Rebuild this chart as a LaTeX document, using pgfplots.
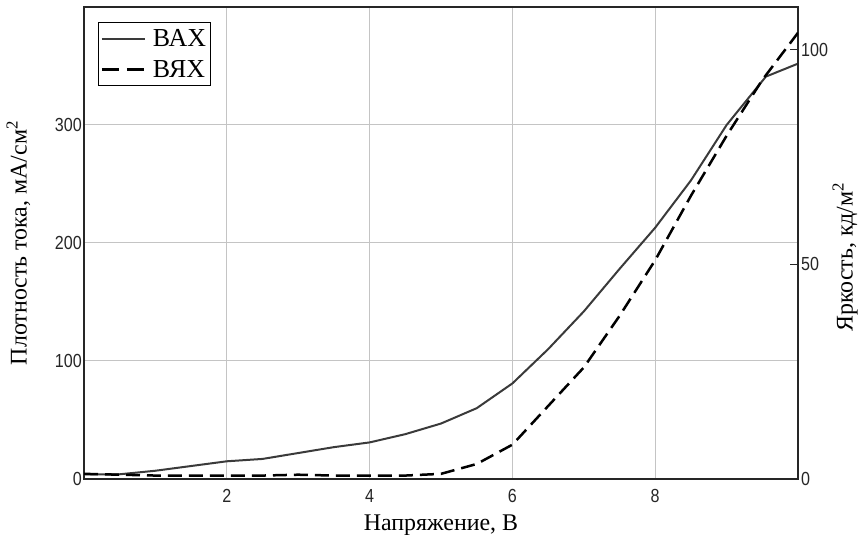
\documentclass[border=0pt]{standalone}
\usepackage{pgfplots}
\pgfplotsset{compat=1.18}
\usepackage{fontspec}
\setmainfont{Liberation Serif}
\newfontfamily\tickfont[FakeStretch=0.85]{Liberation Sans}
\definecolor{solidc}{HTML}{3A3A3A}
\definecolor{gridc}{HTML}{C4C4C4}
\begin{document}
\begin{tikzpicture}[x=1bp,y=1bp]
\begin{axis}[
  at={(84bp,56bp)}, anchor=south west,
  scale only axis, width=714bp, height=472bp,
  xmin=0, xmax=10, ymin=0, ymax=400,
  xtick={2,4,6,8}, ytick={0,100,200,300},
  xtick pos=bottom, ytick pos=left,
  grid=major, grid style={line width=1bp, color=gridc},
  axis line style={line width=1.5bp, black!85},
  major tick length=0pt,
  /pgf/number format/assume math mode=true,
  ticklabel style={font=\tickfont\fontsize{19}{19}\selectfont, text=black!85},
  yticklabel style={inner sep=2bp},
  xticklabel style={yshift=-7bp},
  label style={font=\fontsize{24}{24}\selectfont},
  xlabel={Напряжение, В},
  xlabel style={at={(axis description cs:0.5,0)}, anchor=base, yshift=-52bp},
  ylabel={Плотность тока, мА/см\textsuperscript{2}},
  ylabel style={at={(axis description cs:-0.092,0.5)}, anchor=center},
  legend image code/.code={\draw[#1] (0bp,0bp) -- (43bp,0bp);},
  legend style={at={(axis description cs:0.0196,0.968)}, anchor=north west,
    draw=black, line width=1bp, font=\fontsize{26}{26}\selectfont,
    inner xsep=2bp, inner ysep=5bp, row sep=8bp, column sep=5bp},
  legend cell align=left,
]
\addplot[solidc, line width=2bp] coordinates {
(0,4) (0.5,4) (1,7) (1.5,11) (2,15) (2.5,17) (3,22) (3.5,27) (4,31)
(4.5,38) (5,47) (5.5,60) (6,81) (6.5,110) (7,142) (7.5,178) (8,213)
(8.5,253) (9,300) (9.55,341) (10,352)};
\addlegendentry{ВАХ}
\addlegendimage{black, line width=2.5bp, dash pattern=on 17bp off 8bp}
\addlegendentry{ВЯХ}
\end{axis}
\begin{axis}[
  at={(84bp,56bp)}, anchor=south west,
  scale only axis, width=714bp, height=472bp,
  xmin=0, xmax=10, ymin=0, ymax=110,
  axis x line=none, axis y line*=right,
  ytick={0,50,100},
  axis line style={line width=1.5bp, black!85},
  major tick length=8bp, tick align=inside,
  tick style={line width=1bp, black!85},
  /pgf/number format/assume math mode=true,
  ticklabel style={font=\tickfont\fontsize{19}{19}\selectfont, text=black!85},
  yticklabel style={inner sep=3bp},
  label style={font=\fontsize{24}{24}\selectfont},
  ylabel={Яркость, кд/м\textsuperscript{2}},
  ylabel style={at={(axis description cs:1.066,0.47)}, anchor=center},
]
\addplot[black, line width=2.5bp, dash pattern=on 14bp off 7bp] coordinates {
(0,1.2) (0.5,1) (1,0.8) (1.5,0.8) (2,0.8) (2.5,0.8) (3,1) (3.5,0.8) (4,0.8)
(4.5,0.8) (5,1.2) (5.5,3.5) (6,8) (6.5,17) (7,26) (7.5,38) (8,51)
(8.5,66) (9,80) (9.5,93) (10,104)};
\end{axis}
\pgfresetboundingbox
\path[use as bounding box] (0,0) rectangle (860,535);
\end{tikzpicture}
\end{document}
